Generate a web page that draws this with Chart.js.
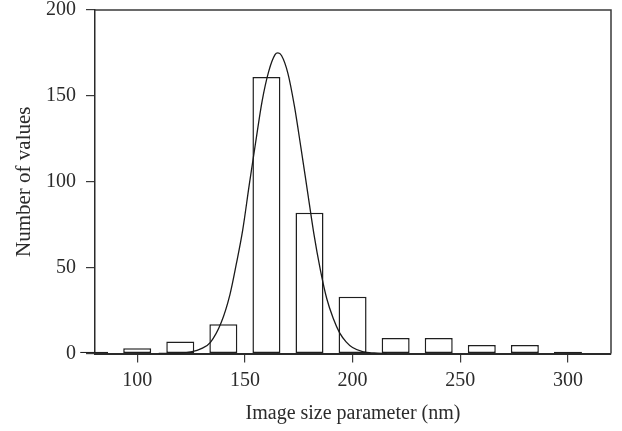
<!DOCTYPE html>
<html><head><meta charset="utf-8">
<script src="https://cdn.jsdelivr.net/npm/chart.js@4/dist/chart.umd.min.js"></script>
<style>html,body{margin:0;padding:0;background:#fff}#wrap{position:relative;width:622px;height:431px}</style>
</head><body><div id="wrap"><canvas id="c" width="622" height="431"></canvas></div>
<script>
// ---- data ----
const binCenters = [80, 100, 120, 140, 160, 180, 200, 220, 240, 260, 280, 300];
const counts     = [1, 3, 7, 17, 161, 82, 33, 9, 9, 5, 5, 1];
const curveX = [110, 120, 125, 130, 134, 139, 143, 146, 149, 152, 155, 158, 161, 164, 165.3, 167, 170, 173, 176, 179, 182, 185, 188, 191, 194, 197, 200, 205, 210, 216];
const curveY = [0, 0.2, 0.9, 3, 6.5, 18, 34, 52, 72, 98, 123, 147, 164, 174, 175, 173.5, 163, 144, 120, 95, 70, 49, 32, 20.5, 12, 6.8, 3.5, 1, 0.3, 0];
const xTicks = [100, 150, 200, 250, 300];
const yTicks = [0, 50, 100, 150, 200];
const xTitle = 'Image size parameter (nm)';
const yTitle = 'Number of values';

Chart.defaults.font.family = "'Liberation Serif', 'DejaVu Serif', serif";
Chart.defaults.color = '#2b2b2b';

const frame = {
  id: 'frame',
  afterDraw(chart) {
    const {ctx, chartArea: a} = chart;
    ctx.save();
    ctx.strokeStyle = '#3a3a3a';
    ctx.lineWidth = 1.5;
    ctx.beginPath();
    ctx.moveTo(a.left, a.top);
    ctx.lineTo(a.right, a.top);
    ctx.lineTo(a.right, a.bottom);
    ctx.stroke();
    ctx.restore();
  }
};

new Chart(document.getElementById('c'), {
  type: 'bar',
  data: {
    datasets: [
      {
        type: 'line',
        data: curveX.map((x, i) => ({x, y: curveY[i]})),
        borderColor: '#1a1a1a',
        borderWidth: 1.3,
        pointRadius: 0,
        fill: false,
        cubicInterpolationMode: 'monotone',
        order: 0
      },
      {
        type: 'bar',
        data: binCenters.map((x, i) => ({x, y: counts[i]})),
        backgroundColor: '#ffffff',
        borderColor: '#1f1f1f',
        borderWidth: 1.5,
        borderSkipped: false,
        barPercentage: 0.65,
        categoryPercentage: 1,
        clip: false,
        order: 1
      }
    ]
  },
  options: {
    responsive: false,
    animation: false,
    layout: {padding: {top: 0, right: 11, left: 0, bottom: 0}},
    plugins: {legend: {display: false}, tooltip: {enabled: false}},
    scales: {
      x: {
        type: 'linear',
        min: 80.4,
        max: 320,
        offset: false,
        afterBuildTicks: s => { s.ticks = xTicks.map(v => ({value: v})); },
        afterFit: s => { s.height = 77.5; },
        grid: {display: true, drawOnChartArea: false, drawTicks: true, tickLength: 9, color: '#3a3a3a', lineWidth: 1.2, offset: false},
        border: {display: true, color: '#2a2a2a', width: 2},
        ticks: {font: {size: 20}, padding: 6, maxRotation: 0, autoSkip: false},
        title: {display: true, text: xTitle, font: {size: 20}, padding: {top: 2, bottom: 5}}
      },
      y: {
        min: 0,
        max: 200,
        afterBuildTicks: s => { s.ticks = yTicks.map(v => ({value: v})); },
        afterFit: s => { s.width = 95; s.paddingTop = 10; s.paddingBottom = 0; },
        grid: {display: true, drawOnChartArea: false, drawTicks: true, tickLength: 9, color: '#3a3a3a', lineWidth: 1.2},
        border: {display: true, color: '#2a2a2a', width: 1.5},
        ticks: {font: {size: 20}, padding: 10},
        title: {display: true, text: yTitle, font: {size: 21}, padding: {top: 12, bottom: 0}}
      }
    }
  },
  plugins: [frame]
});
</script></body></html>
